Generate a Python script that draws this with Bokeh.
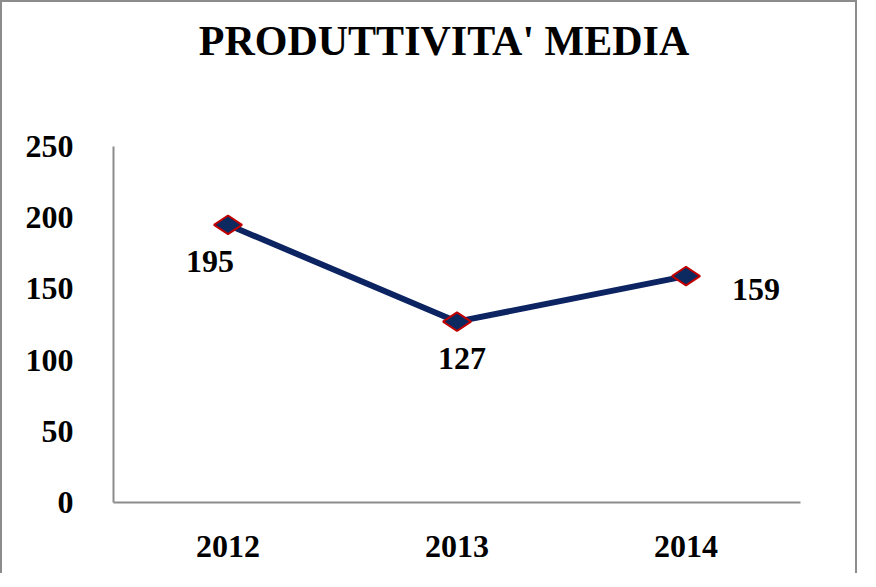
from bokeh.plotting import figure
from bokeh.models import FixedTicker, ColumnDataSource
from bokeh.embed import file_html
from bokeh.resources import INLINE
from bokeh.core.properties import value
import math

years = ["2012", "2013", "2014"]
productivity = [195, 127, 159]
y_ticks = [0, 50, 100, 150, 200, 250]
title_text = "PRODUTTIVITA' MEDIA"

FONT = "Liberation Serif"

# frame extends up to hold the title; the y axis line stops at 250
p = figure(x_range=years, y_range=(0, 346.9), width=857, height=573,
           output_backend="svg", toolbar_location=None,
           min_border_left=111, min_border_right=59, min_border_top=6, min_border_bottom=73)
p.styles = {"border-top": "2px solid #8c8c8c", "border-left": "2px solid #8c8c8c",
            "border-right": "2px solid #8c8c8c"}
p.outline_line_color = None
p.xgrid.grid_line_color = None
p.ygrid.grid_line_color = None
p.x_range.range_padding = 0

for ax in (p.xaxis, p.yaxis):
    ax.axis_line_color = "#8c8c8c"
    ax.axis_line_width = 2
    ax.major_tick_line_color = None
    ax.minor_tick_line_color = None
    ax.major_label_text_font = FONT
    ax.major_label_text_font_style = "bold"
    ax.major_label_text_font_size = "32px"
    ax.major_label_text_color = "black"

p.yaxis.ticker = FixedTicker(ticks=y_ticks)
p.yaxis.bounds = (0, 250)
p.yaxis.major_label_standoff = 34
p.xaxis.major_label_standoff = 27

src = ColumnDataSource(dict(x=years, y=productivity))
p.line("x", "y", source=src, line_color="#0c2461", line_width=6)
p.scatter("x", "y", source=src, marker="diamond", size=28, angle=math.pi / 2,
          fill_color="#0c2a60", line_color="#c00000", line_width=2)

offsets = [(-18, -37), (5, -37), (70, -13)]
for i, (dx, dy) in enumerate(offsets):
    p.text(x=[years[i]], y=[productivity[i]], text=[str(productivity[i])],
           x_offset=dx, y_offset=-dy, text_align="center", text_baseline="middle",
           text_font=value(FONT), text_font_style="bold", text_font_size="32px",
           text_color="black")

# chart title, placed in the upper part of the frame
p.text(x=[years[1]], y=[324], text=[title_text], x_offset=-13,
       text_align="center", text_baseline="middle",
       text_font=value(FONT), text_font_style="bold", text_font_size="42px",
       text_color="black")

open("out.html", "w").write(file_html(p, INLINE))
